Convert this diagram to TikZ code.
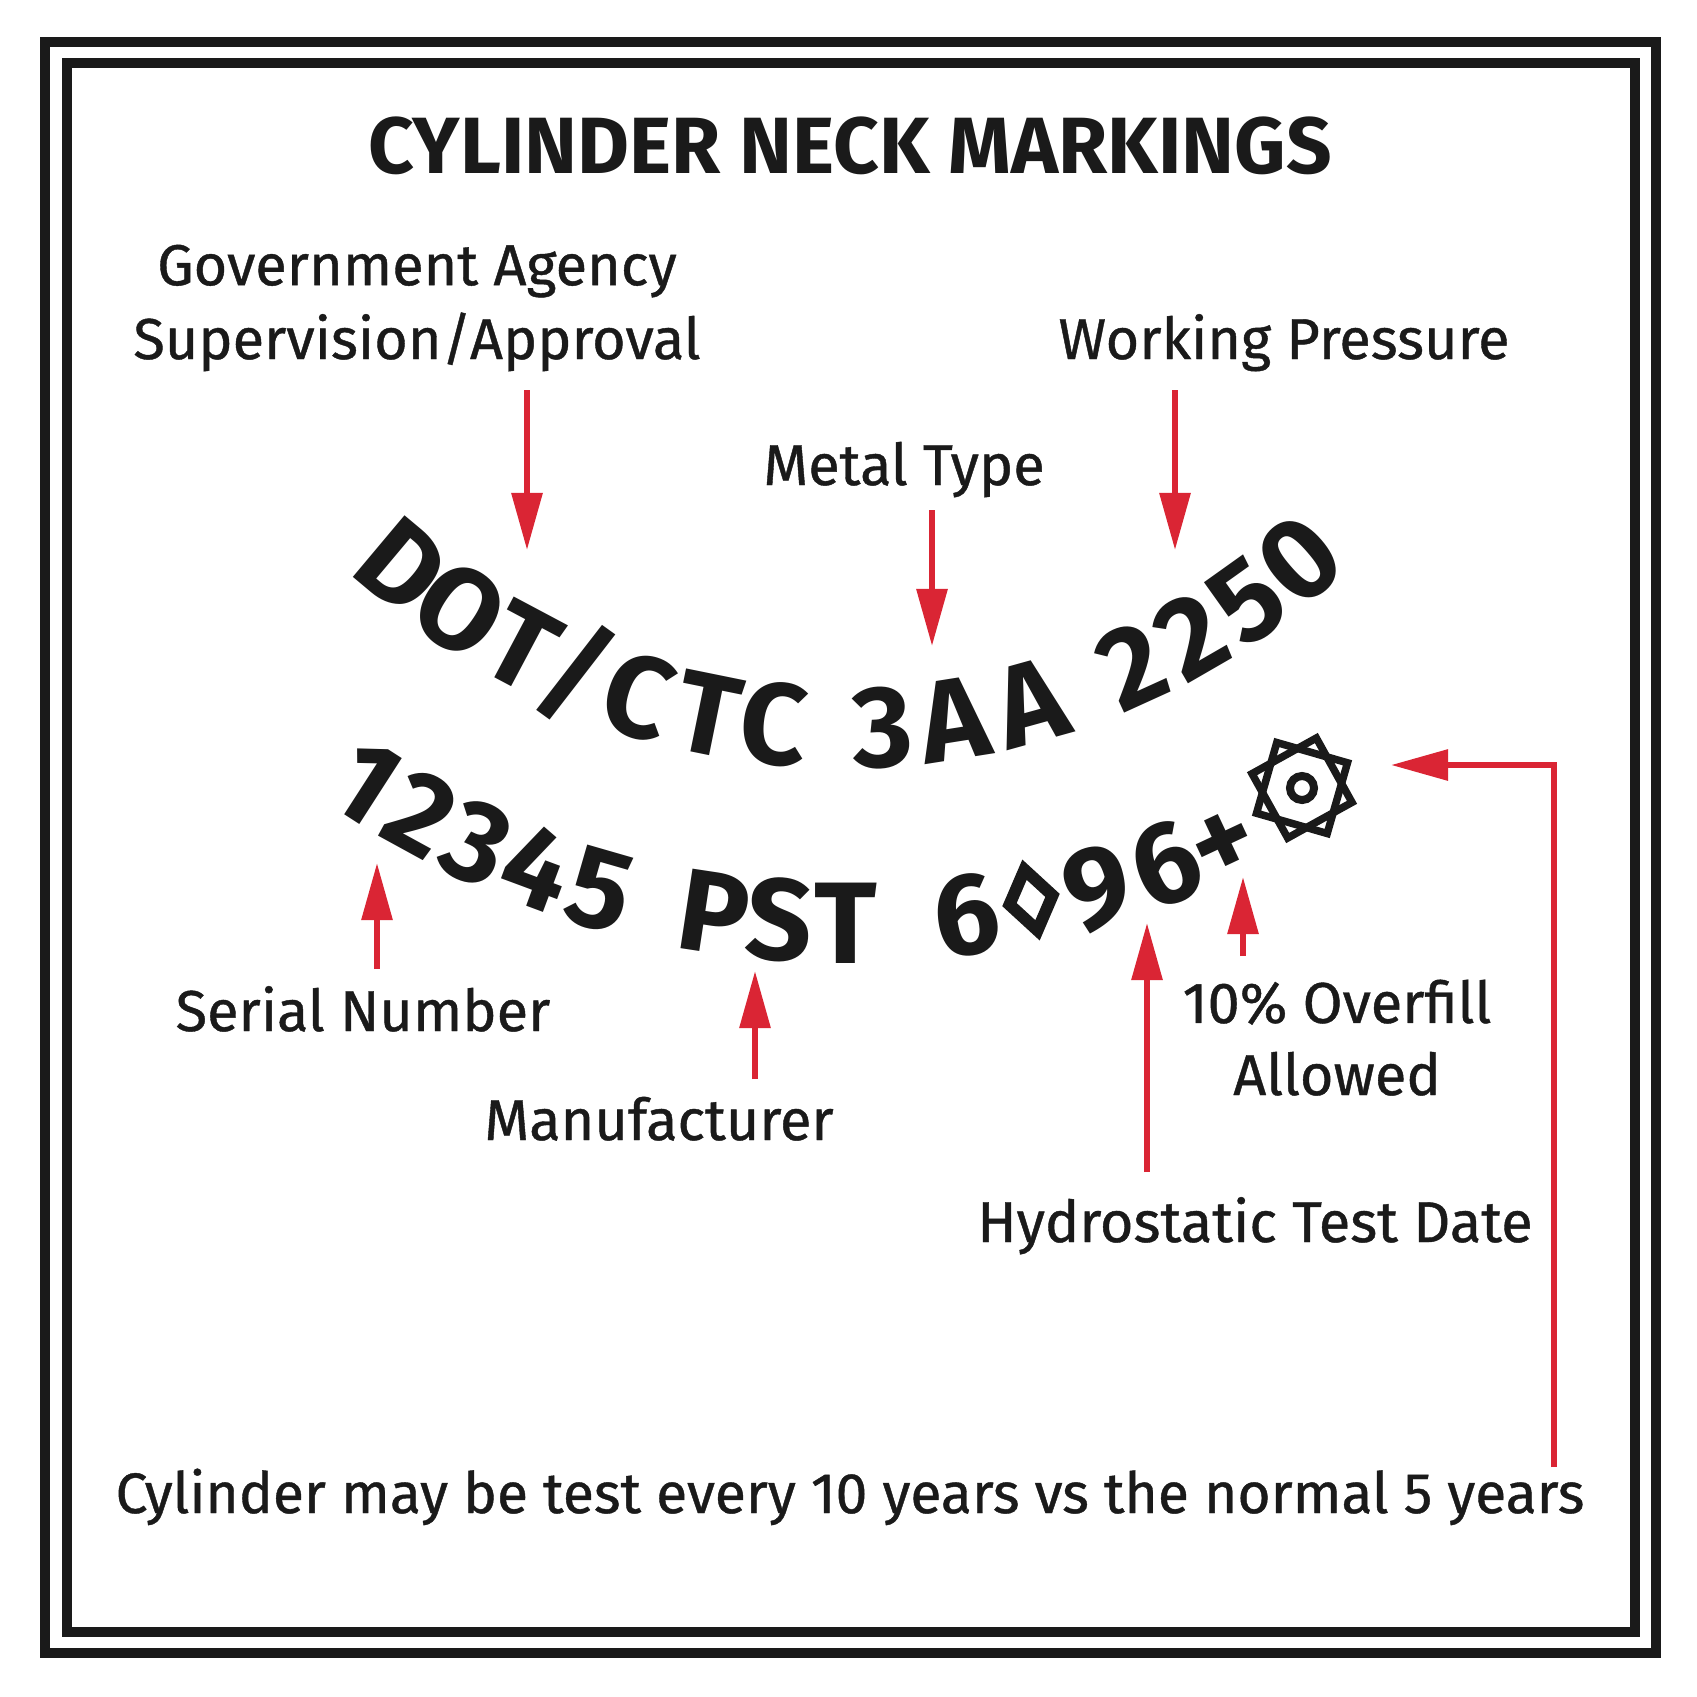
\documentclass[tikz,border=0pt]{standalone}
\usepackage{fontspec}
\setmainfont{Fira Sans}
\newfontfamily\labelfont{Fira Sans}[FakeBold=0.7]
\usetikzlibrary{arrows.meta, positioning}

\definecolor{markred}{RGB}{218,37,52}
\definecolor{inkblack}{RGB}{26,26,26}

\begin{document}
\begin{tikzpicture}[x=0.01cm, y=-0.01cm,
    tag/.style={font=\labelfont\fontsize{16.4}{21}\selectfont, text=inkblack,
      align=center, inner sep=0pt, anchor=base},
    stamp/.style={font=\fontsize{33}{33}\selectfont\bfseries, text=inkblack,
      inner sep=0pt, text height=0.8cm, text depth=0pt, anchor=center},
    pointer/.style={draw=markred, line width=0.06cm,
      -{Triangle[length=0.57cm, width=0.3cm]}},
    rim/.style={draw=inkblack, line width=0.1cm}]

    \fill[white] (0,0) rectangle (1697,1696);
    \useasboundingbox (0,0) rectangle (1697,1696);

    % double frame
    \draw[rim] (45,42) rectangle (1656,1653);
    \draw[rim] (67,63) rectangle (1635,1632);

    \node[tag, font=\fontsize{22.7}{23}\selectfont\bfseries] (title) at (850,173)
        {CYLINDER NECK MARKINGS};

    % labels (base = last line)
    \node[tag] (agency) at (417,359) {Government Agency\\Supervision/Approval};
    \node[tag] (pressure) at (1284,359) {Working Pressure};
    \node[tag] (metal) at (904,485) {Metal Type};
    \node[tag] (serial) at (363,1031) {Serial Number};
    \node[tag] (maker) at (659,1140) {Manufacturer};
    \node[tag, font=\labelfont\fontsize{16.4}{20.5}\selectfont] (overfill)
        at (1337,1095) {10\% Overfill\\Allowed};
    \node[tag] (hydro) at (1255,1242) {Hydrostatic Test Date};
    \node[tag, font=\labelfont\fontsize{16.2}{20}\selectfont] (note) at (850,1513)
        {Cylinder may be test every 10 years vs the normal 5 years};

    % stamped text, upper and lower arcs round (846,38)
    \foreach \g/\a [count=\i] in {D/40, O/34, T/28, \slash/23, C/17.5, T/11.5,
        C/6, 3/-3, A/-9, A/-15.5, 2/-24.5, 2/-30, 5/-35.5, 0/-41}
      \node[stamp, rotate=-\a] (up\i) at ({846-690*sin(\a)},{38+690*cos(\a)}) {\g};
    \foreach \g/\a [count=\i] in {1/32.8, 2/28.7, 3/24.6, 4/20.4, 5/16.1,
        P/8.6, S/4.3, T/0, 6/-7.8, 9/-16.5, 6/-21.2, +/-25.1}
      \node[stamp, rotate=-\a] (lo\i) at ({846-885*sin(\a)},{38+885*cos(\a)}) {\g};

    % diamond
    \begin{scope}[shift={(1031,900)}, rotate=12.1]
      \draw[inkblack, line width=0.12cm, line join=miter]
        (0,-31) -- (22,0) -- (0,31) -- (-22,0) -- cycle;
    \end{scope}

    % eight point star
    \begin{scope}[shift={(1302,788)}]
      \draw[inkblack, line width=0.075cm, line join=miter]
        (-29:52) -- (-119:52) -- (-209:52) -- (-299:52) -- cycle;
      \draw[inkblack, line width=0.075cm, line join=miter]
        (-74:52) -- (-164:52) -- (-254:52) -- (-344:52) -- cycle;
      \draw[inkblack, line width=0.08cm] (0,0) circle (12);
    \end{scope}

    % arrow ends
    \coordinate (agencytail) at (527,390);
    \coordinate (agencytip) at (527,550);
    \coordinate (metaltail) at (932,510);
    \coordinate (metaltip) at (932,646);
    \coordinate (pressuretail) at (1175,390);
    \coordinate (pressuretip) at (1175,550);
    \coordinate (serialtail) at (377,969);
    \coordinate (serialtip) at (377,863);
    \coordinate (makertail) at (755,1079);
    \coordinate (makertip) at (755,971);
    \coordinate (hydrotail) at (1147,1172);
    \coordinate (hydrotip) at (1147,923);
    \coordinate (overfilltail) at (1243,956);
    \coordinate (overfilltip) at (1243,877);
    \coordinate (notetail) at (1554,1467);
    \coordinate (notetip) at (1391,765);

    \draw[pointer] (agencytail) -- (agencytip);
    \draw[pointer] (metaltail) -- (metaltip);
    \draw[pointer] (pressuretail) -- (pressuretip);
    \draw[pointer] (serialtail) -- (serialtip);
    \draw[pointer] (makertail) -- (makertip);
    \draw[pointer] (hydrotail) -- (hydrotip);
    \draw[pointer] (overfilltail) -- (overfilltip);
    \draw[pointer] (notetail) |- (notetip);
\end{tikzpicture}
\end{document}
